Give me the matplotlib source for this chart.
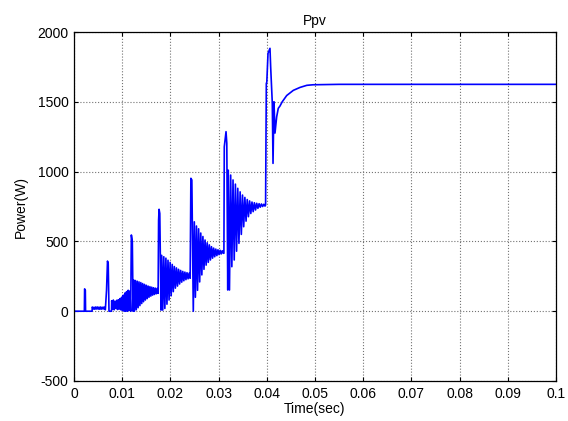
import matplotlib
matplotlib.use("Agg")
import matplotlib.pyplot as plt
import numpy as np

# -- values (time in s, power in W) --
# single points: spikes, steps and the final settling curve
key_t = [0.0, 0.00215, 0.00220, 0.00235, 0.00240, 0.00375]
key_p = [0, 0, 160, 150, 0, 0]

spike2_t = [0.00650, 0.00675, 0.00695, 0.00710, 0.00726, 0.00778]
spike2_p = [10, 150, 359, 340, 0, 0]

spike3_t = [0.01190, 0.01210, 0.01226]
spike3_p = [546, 500, 0]

spike4_t = [0.01755, 0.01765, 0.01780, 0.01805]
spike4_p = [650, 730, 700, 8]

spike5_t = [0.02425, 0.02445, 0.02475]
spike5_p = [952, 940, 0]

spike6_t = [0.03110, 0.03118, 0.03154, 0.03170, 0.03190]
spike6_p = [415, 1178, 1286, 1203, 152]

settle_t = [0.03975, 0.03990, 0.04000, 0.04025, 0.04066, 0.04080, 0.04095,
            0.04114, 0.04129, 0.04149, 0.04170, 0.04205, 0.04238, 0.04274,
            0.04320, 0.04413, 0.04550, 0.04689, 0.04830, 0.04960, 0.05500, 0.1]
settle_p = [761, 1632, 1640, 1847, 1883, 1751, 1634,
            1491, 1059, 1500, 1276, 1393, 1453, 1470,
            1500, 1545, 1582, 1603, 1618, 1622, 1625, 1625]

# oscillating stretches: (start, end), peak values, trough values
seg_a_span = (0.00380, 0.00640)
seg_a_hi = [30, 28, 30, 30, 29, 30, 28, 30]
seg_a_lo = [15, 14, 16, 15, 14, 15, 16, 15]

seg_b_span = (0.00782, 0.01176)
seg_b_hi = [75, 80, 70, 78, 82, 90, 100, 115, 130, 140, 150, 145]
seg_b_lo = [15, 10, 20, 12, 15, 10, 5, 0, 0, 0, 5, 0]

seg_c_span = (0.01235, 0.01745)
seg_c_hi = [225, 220, 215, 210, 205, 198, 192, 186, 180, 176, 172, 168, 165, 163]
seg_c_lo = [0, 10, 25, 40, 55, 68, 80, 90, 100, 108, 115, 120, 125, 128]

seg_d_span = (0.01819, 0.02410)
seg_d_hi = [400, 390, 380, 365, 350, 335, 320, 310, 300, 292, 285, 280, 276, 272]
seg_d_lo = [8, 20, 50, 80, 110, 140, 165, 180, 195, 208, 218, 226, 232, 236]

seg_e_span = (0.02496, 0.03098)
seg_e_hi = [640, 610, 590, 560, 535, 510, 490, 475, 462, 452, 445, 440, 436, 433]
seg_e_lo = [100, 150, 210, 260, 300, 330, 350, 367, 380, 390, 398, 405, 410, 415]

seg_f_span = (0.03201, 0.03963)
seg_f_hi = [1010, 975, 940, 910, 880, 855, 832, 815, 800, 790, 782, 777, 773, 770, 768, 766]
seg_f_lo = [152, 319, 367, 430, 486, 550, 605, 645, 677, 700, 713, 725, 737, 745, 750, 753]

x_ticks = [0, 0.01, 0.02, 0.03, 0.04, 0.05, 0.06, 0.07, 0.08, 0.09, 0.1]
x_labels = ["0", "0.01", "0.02", "0.03", "0.04", "0.05", "0.06", "0.07", "0.08", "0.09", "0.1"]
y_ticks = [-500, 0, 500, 1000, 1500, 2000]


def osc(span, hi, lo):
    # peaks and troughs alternate, evenly spaced over the stretch
    t = np.linspace(span[0], span[1], 2 * len(hi))
    p = np.ravel(np.column_stack([hi, lo]))
    return list(t), list(p)


pieces = [
    (key_t, key_p),
    osc(seg_a_span, seg_a_hi, seg_a_lo),
    (spike2_t, spike2_p),
    osc(seg_b_span, seg_b_hi, seg_b_lo),
    (spike3_t, spike3_p),
    osc(seg_c_span, seg_c_hi, seg_c_lo),
    (spike4_t, spike4_p),
    osc(seg_d_span, seg_d_hi, seg_d_lo),
    (spike5_t, spike5_p),
    osc(seg_e_span, seg_e_hi, seg_e_lo),
    (spike6_t, spike6_p),
    osc(seg_f_span, seg_f_hi, seg_f_lo),
    (settle_t, settle_p),
]
t_all = np.concatenate([np.asarray(a, dtype=float) for a, _ in pieces])
p_all = np.concatenate([np.asarray(b, dtype=float) for _, b in pieces])

plt.rcParams["font.family"] = ["Liberation Sans", "DejaVu Sans"]
plt.rcParams["axes.unicode_minus"] = False

fig = plt.figure(figsize=(5.68, 4.21), dpi=100)
ax = fig.add_axes([74 / 568, 40 / 421, 482 / 568, 349 / 421])

ax.plot(t_all, p_all, color="#0000ff", linewidth=1.2)

ax.set_xlim(0, 0.1)
ax.set_ylim(-500, 2000)
ax.set_xticks(x_ticks)
ax.set_xticklabels(x_labels)
ax.set_yticks(y_ticks)

ax.grid(True, color="0.45", linestyle=":", linewidth=0.8)
ax.tick_params(direction="in", length=3, width=0.8, top=True, right=True,
               labelsize=10, pad=4, colors="black")
for s in ax.spines.values():
    s.set_linewidth(0.9)

ax.set_title("Ppv", fontsize=10, pad=5)
ax.set_xlabel("Time(sec)", fontsize=10, labelpad=1)
ax.set_ylabel("Power(W)", fontsize=10, labelpad=7)

fig.savefig("out.png", dpi=100)
